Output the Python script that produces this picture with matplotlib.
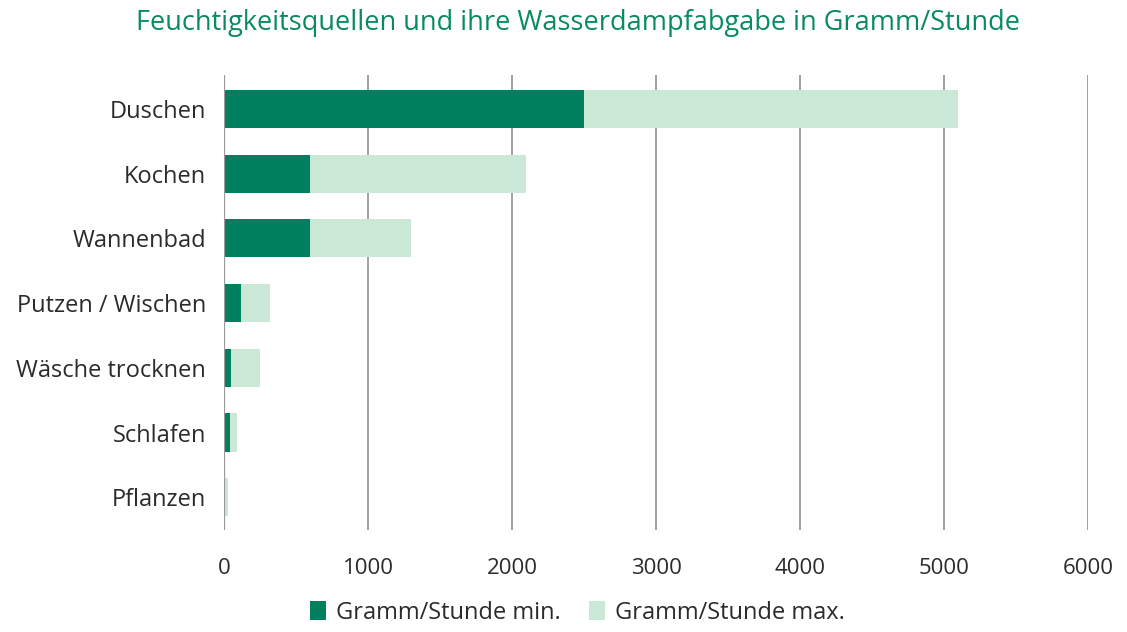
import matplotlib.pyplot as plt
import numpy as np

# Daten
kategorien = ["Duschen", "Kochen", "Wannenbad", "Putzen / Wischen",
              "Wäsche trocknen", "Schlafen", "Pflanzen"]
gramm_min = [2500, 600, 600, 120, 50, 40, 5]
gramm_max = [2600, 1500, 700, 200, 200, 50, 20]
ticks_x = [0, 1000, 2000, 3000, 4000, 5000, 6000]

dunkel = "#00805f"
hell = "#cbe7d6"
text_farbe = "#2b2b2b"

plt.rcParams['font.family'] = ['Open Sans', 'DejaVu Sans']

fig = plt.figure(figsize=(11.27, 6.32), dpi=100)
ax = fig.add_axes([0.1988, 0.161, 0.7666, 0.72])

y = np.arange(len(kategorien))
ax.barh(y, gramm_min, height=0.59, color=dunkel, label="Gramm/Stunde min.", zorder=3)
ax.barh(y, gramm_max, left=gramm_min, height=0.59, color=hell,
        label="Gramm/Stunde max.", zorder=3)

ax.set_xlim(0, 6000)
ax.set_ylim(6.51, -0.52)
ax.set_xticks(ticks_x)
ax.set_xticklabels([str(t) for t in ticks_x])
ax.set_yticks(y)
ax.set_yticklabels(kategorien)

# gitter
ax.grid(axis='x', color='#9a9a9a', linewidth=1.3, zorder=0)
ax.axvline(0, color='#9a9a9a', linewidth=1.6, zorder=4)
for s in ax.spines.values():
    s.set_visible(False)
ax.tick_params(axis='both', length=0, colors=text_farbe)
ax.tick_params(axis='x', pad=20, labelsize=16)
ax.tick_params(axis='y', pad=13, labelsize=17)

fig.suptitle("Feuchtigkeitsquellen und ihre Wasserdampfabgabe in Gramm/Stunde",
             x=0.513, y=0.985, color="#0a8a62", fontsize=19.5)

fig.legend(loc='lower center', bbox_to_anchor=(0.512, -0.022), ncol=2, frameon=False,
           fontsize=17, handlelength=0.7, handleheight=0.9, handletextpad=0.4,
           columnspacing=1.2, labelcolor=text_farbe)

fig.savefig("out.png", dpi=100)
